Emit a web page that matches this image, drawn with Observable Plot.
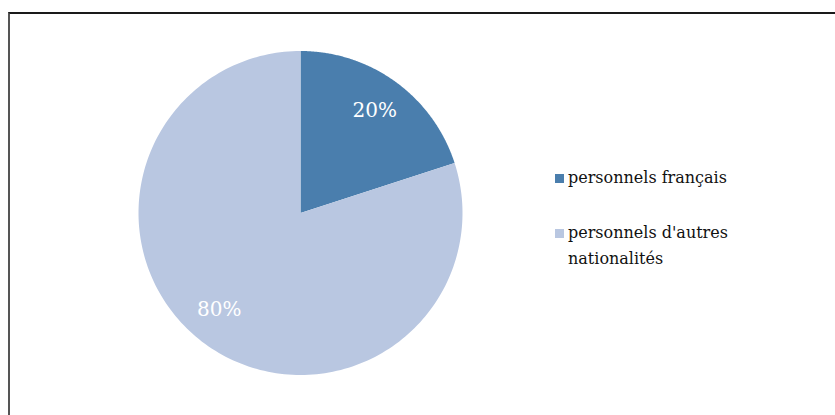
<!DOCTYPE html>
<html><head><meta charset="utf-8">
<script src="https://cdn.jsdelivr.net/npm/d3@7"></script>
<script src="https://cdn.jsdelivr.net/npm/@observablehq/plot@0.6"></script>
<style>
body{margin:0;background:#fff;width:835px;height:415px;overflow:hidden;position:relative;font-family:"DejaVu Serif",serif;}
#frame{position:absolute;left:8px;top:12px;width:840px;height:420px;border-top:2px solid #1a1a1a;border-left:2px solid #555;box-sizing:border-box;}
#chart{position:absolute;left:0;top:0;}
.item{position:absolute;left:555px;display:flex;align-items:flex-start;font-size:16px;line-height:26px;color:#111;}
.sw{width:9px;height:9px;margin-top:9px;margin-right:4px;flex:none;}
</style></head>
<body>
<div id="frame"></div>
<div id="chart"></div>
<div id="legend"></div>
<script>
const categories = ["personnels français", "personnels d'autres nationalités"];
const legendLines = [["personnels français"], ["personnels d'autres", "nationalités"]];
const values = [20, 80];
const labels = ["20%", "80%"];
const colors = ["#4a7ead", "#b9c7e1"];

const arcs = d3.pie().sort(null)(values);
const pts = [];
arcs.forEach((a, i) => {
  pts.push({cat: categories[i], x: 0, y: 0});
  const n = 200;
  for (let k = 0; k <= n; k++) {
    const t = a.startAngle + (a.endAngle - a.startAngle) * k / n;
    pts.push({cat: categories[i], x: Math.sin(t), y: Math.cos(t)});
  }
});
const lab = arcs.map((a, i) => {
  const m = (a.startAngle + a.endAngle) / 2 + (i === 1 ? 0.07 : 0);
  return {text: labels[i], x: 0.78 * Math.sin(m), y: 0.78 * Math.cos(m)};
});

const chart = Plot.plot({
  width: 835, height: 415,
  marginTop: 0, marginRight: 0, marginBottom: 0, marginLeft: 0,
  x: {domain: [-1, 1], range: [138, 462], axis: null},
  y: {domain: [-1, 1], range: [374.5, 50.5], axis: null},
  color: {domain: categories, range: colors},
  style: {background: "transparent"},
  marks: [
    Plot.line(pts, {x: "x", y: "y", z: "cat", fill: "cat", stroke: "none", curve: "linear-closed"}),
    Plot.text(lab, {x: "x", y: "y", text: "text", fill: "white", fontSize: 20, fontFamily: "DejaVu Serif"})
  ]
});
document.getElementById("chart").appendChild(chart);

const tops = [165, 220];
const leg = document.getElementById("legend");
categories.forEach((c, i) => {
  const d = document.createElement("div");
  d.className = "item";
  d.style.top = tops[i] + "px";
  d.innerHTML = `<span class="sw" style="background:${colors[i]}"></span><span>${legendLines[i].join("<br>")}</span>`;
  leg.appendChild(d);
});
</script>
</body></html>
